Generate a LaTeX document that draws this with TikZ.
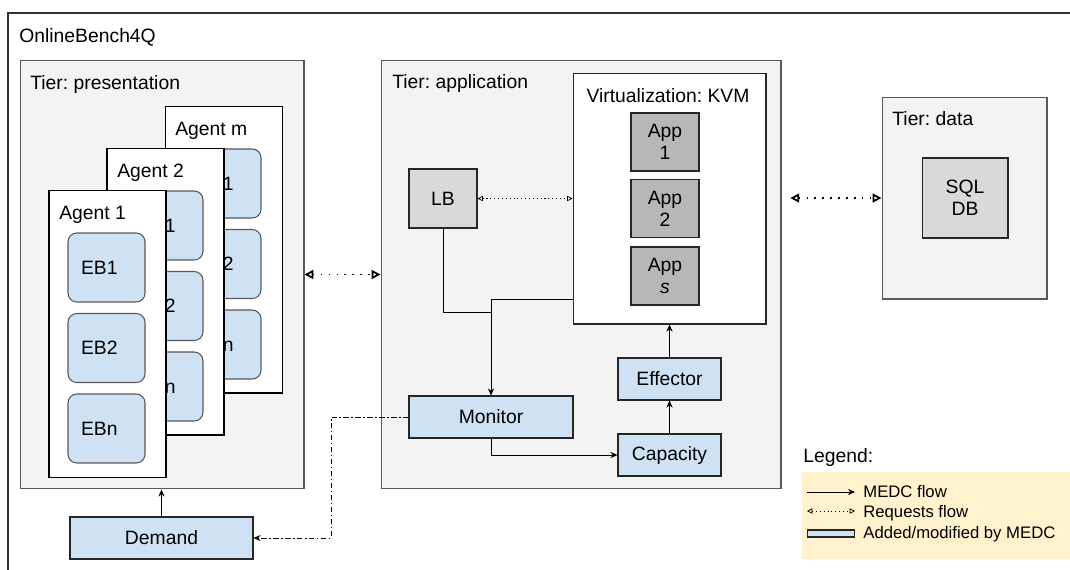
\documentclass[tikz,border=0pt]{standalone}
\usepackage{fontspec}
\setmainfont{Liberation Sans}
\usetikzlibrary{arrows.meta}
\definecolor{medcblue}{HTML}{CFE2F3}
\definecolor{tiergray}{HTML}{F3F3F3}
\definecolor{lbgray}{HTML}{D9D9D9}
\definecolor{appgray}{HTML}{B7B7B7}
\definecolor{legendbg}{HTML}{FFF2CC}
\definecolor{edgegray}{HTML}{595959}
\frenchspacing
\begin{document}
\begin{tikzpicture}[x=0.02cm,y=-0.02cm,>={Stealth[length=4pt,width=3.5pt]},
  font=\fontsize{11}{12.5}\selectfont,
  tier/.style={draw=edgegray,fill=tiergray,line width=0.6pt,inner sep=0},
  agent/.style={draw=black,fill=white,line width=0.6pt,minimum width=2.34cm,minimum height=5.74cm,inner sep=0},
  ebbox/.style={draw=edgegray,fill=medcblue,rounded corners=5pt,line width=0.6pt,text width=1.02cm,inner xsep=0.26cm,align=left,minimum height=1.38cm},
  medc/.style={draw=black!85,fill=medcblue,line width=0.6pt,minimum height=0.84cm},
  appbox/.style={draw=black!85,fill=appgray,line width=0.6pt,minimum width=1.36cm,minimum height=1.16cm,align=center},
  greybox/.style={draw=black!85,fill=lbgray,line width=0.6pt,align=center},
  title/.style={anchor=base west,inner sep=0},
  legtext/.style={anchor=base west,inner sep=0,font=\fontsize{9.5}{11}\selectfont},
  flow/.style={->,line width=0.5pt},
  req/.style={{Triangle[open,length=5pt,width=5pt]}-{Triangle[open,length=5pt,width=5pt]},line width=1pt,dash pattern=on 0.9pt off 3.6pt},
  reqthin/.style={{Triangle[open,length=3pt,width=3pt]}-{Triangle[open,length=3pt,width=3pt]},line width=0.4pt,dash pattern=on 0.6pt off 1.6pt},
  demflow/.style={->,line width=0.5pt,dash pattern=on 3pt off 1.5pt on 0.8pt off 1.5pt}]
\useasboundingbox (0,0) rectangle (1070,569);
%Khung ngoai
\draw[line width=0.6pt,black!80] (1080,13) -| (8,580);
\node[title] (obq) at (19,42) {OnlineBench4Q};
%Tier presentation
\node[tier,minimum width=5.68cm,minimum height=8.58cm] (pres) at (162,274.5) {};
\node[title] (prest) at (30,89) {Tier: presentation};
%Agent m
\node[agent] (agm) at (224,249.5) {};
\node[title] (agmt) at (175,135) {Agent m};
\node[ebbox] (ebm1) at (222.5,183.5) {EB1};
\node[ebbox] (ebm2) at (222.5,264) {EB2};
\node[ebbox] (ebmn) at (222.5,344.5) {EBn};
%Agent 2
\node[agent] (ag2) at (165.5,291.5) {};
\node[title] (ag2t) at (117,177) {Agent 2};
\node[ebbox] (eb21) at (164.5,225.5) {EB1};
\node[ebbox] (eb22) at (164.5,306) {EB2};
\node[ebbox] (eb2n) at (164.5,386.5) {EBn};
%Agent 1
\node[agent] (ag1) at (107.5,334) {};
\node[title] (ag1t) at (59,219) {Agent 1};
\node[ebbox] (eb11) at (106.5,267.5) {EB1};
\node[ebbox] (eb12) at (106.5,348) {EB2};
\node[ebbox] (eb1n) at (106.5,428.5) {EBn};
%Demand
\node[medc,minimum width=3.66cm] (dem) at (161.5,538) {Demand};
%Tier application
\node[tier,minimum width=8cm,minimum height=8.58cm] (app) at (581,274.5) {};
\node[title] (appt) at (392,88) {Tier: application};
\node[draw=black!85,fill=white,line width=0.6pt,minimum width=3.86cm,minimum height=5.02cm] (virt) at (669.5,198.5) {};
\node[anchor=base,inner sep=0] (virtt) at (668,102) {Virtualization: KVM};
\node[appbox] (app1) at (665,142) {App\\1};
\node[appbox] (app2) at (665,208.5) {App\\2};
\node[appbox] (apps) at (665,276) {App\\\textit{s}};
\node[greybox,minimum width=1.36cm,minimum height=1.18cm] (lb) at (443,198.5) {LB};
\node[medc,minimum width=3.28cm] (mon) at (491,417) {Monitor};
\node[medc,minimum width=2.06cm] (eff) at (669.5,379) {Effector};
\node[medc,minimum width=2.06cm] (cap) at (669.5,455) {Capacity};
%Tier data
\node[tier,minimum width=3.3cm,minimum height=4.04cm] (data) at (964.5,198) {};
\node[title] (datat) at (892,125) {Tier: data};
\node[greybox,minimum width=1.72cm,minimum height=1.6cm] (sql) at (965,198) {SQL\\DB};
%Mui ten
\coordinate (mj) at (491,312);
\coordinate (vj) at (491,299);
\coordinate (dj) at (331,538);
\draw[line width=0.5pt] (lb.south) |- (mj);
\draw[flow] (virt.west |- vj) -- (vj) -- (mon.north);
\draw[flow] (mon.south) |- (cap.west);
\draw[flow] (cap.north) -- (eff.south);
\draw[flow] (eff.north) -- (virt.south);
\draw[flow] (dem.north) -- (dem.north |- pres.south);
\draw[demflow] (mon.west) -| (dj) -- (dem.east);
\draw[reqthin] (lb.east) -- (virt.west);
\draw[req] (pres.east) -- (app.west);
\draw[req,shorten <=5pt] (app.east |- data.west) -- (data.west);
%Legend
\node[fill=legendbg,minimum width=5.36cm,minimum height=1.74cm,inner sep=0] (leg) at (936,515.5) {};
\node[title] (legt) at (803,462) {Legend:};
\coordinate (l1a) at (807,492);
\coordinate (l1b) at (855,492);
\draw[flow] (l1a) -- (l1b);
\node[legtext] (l1t) at (863,497) {MEDC flow};
\coordinate (l2a) at (807,511);
\coordinate (l2b) at (855,511);
\draw[reqthin] (l2a) -- (l2b);
\node[legtext] (l2t) at (863,517) {Requests flow};
\node[medc,minimum width=0.94cm,minimum height=0.14cm,inner sep=0] (sw) at (831,533.5) {};
\node[legtext] (l3t) at (863,538) {Added/modified by MEDC};
\end{tikzpicture}
\end{document}
